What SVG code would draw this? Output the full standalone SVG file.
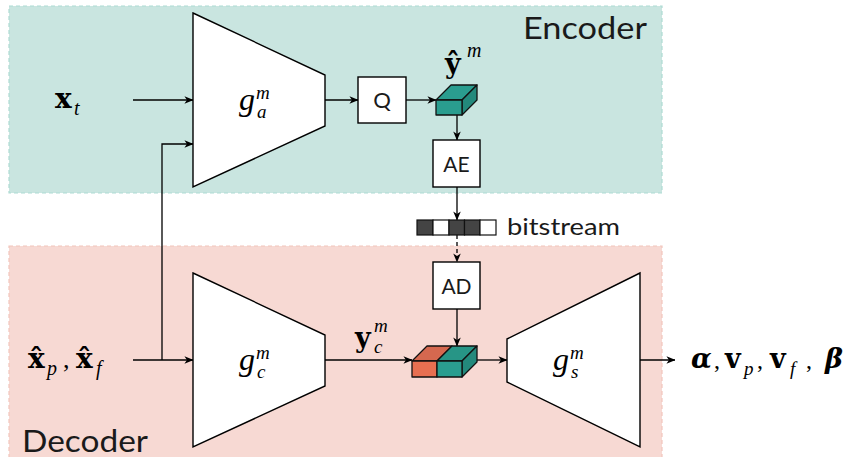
<svg xmlns="http://www.w3.org/2000/svg" width="855" height="457" viewBox="0 0 855 457">
<defs>
<marker id="arr" viewBox="0 0 10 10" refX="9.5" refY="5" markerWidth="9" markerHeight="9" markerUnits="userSpaceOnUse" orient="auto">
<path d="M0,0.8 L10,5 L0,9.2 L2.8,5 z" fill="#000"/>
</marker>
</defs>
<style>
.enc{fill:#c9e5e0;stroke:#aedbd3;stroke-width:1.2;stroke-dasharray:4 3}
.dec{fill:#f7d9d3;stroke:#f2c5bc;stroke-width:1.2;stroke-dasharray:4 3}
.blk{fill:#fff;stroke:#000;stroke-width:1.4}
.conn path{fill:none;stroke:#000;stroke-width:1.3;marker-end:url(#arr)}
.sans{font-family:Lato,"Open Sans",sans-serif;font-weight:400;fill:#1a1a1a}
.m{font-family:"Liberation Serif","DejaVu Serif",serif;fill:#000}
.b{font-family:"DejaVu Serif",serif;font-weight:bold}
.i{font-style:italic}
.cub{stroke:#111;stroke-width:1.3;stroke-linejoin:round}
</style>

<g id="encoder-region">
<rect class="enc" x="9" y="6" width="653" height="187"/>
<text class="sans" x="523" y="39" font-size="30" textLength="124" lengthAdjust="spacingAndGlyphs">Encoder</text>
</g>
<g id="decoder-region">
<rect class="dec" x="9" y="246" width="653" height="216"/>
<text class="sans" x="22" y="452" font-size="30" textLength="126" lengthAdjust="spacingAndGlyphs">Decoder</text>
</g>

<g class="conn" id="connectors">
<path d="M133,100 H193"/>
<path d="M162,360 V144 H193"/>
<path d="M133,360 H193"/>
<path d="M325,100 H358"/>
<path d="M406,100 H436"/>
<path d="M457,115 V140"/>
<path d="M457,187 V220"/>
<path d="M457,235 V262" stroke-dasharray="4 3"/>
<path d="M457,309 V346"/>
<path d="M325,360 H412"/>
<path d="M477,360 H507"/>
<path d="M640,360 H675"/>
</g>

<g id="input-xt">
<text class="m" font-size="28"><tspan class="b" x="55" y="108">x</tspan><tspan class="i" x="74" y="115" font-size="20">t</tspan></text>
</g>

<g id="input-xpxf">
<text class="m" font-size="28"><tspan class="b" x="28" y="368">x̂</tspan><tspan class="i" x="47" y="375" font-size="20">p</tspan><tspan x="63" y="368" font-size="26">,</tspan><tspan class="b" x="76" y="368">x̂</tspan><tspan class="i" x="96" y="375" font-size="20">f</tspan></text>
</g>

<g id="ga">
<polygon class="blk" points="193,13 325,75 325,126 193,187"/>
<text class="m i" font-size="32"><tspan x="239" y="110">g</tspan><tspan x="256" y="99" font-size="19">m</tspan><tspan x="257" y="118" font-size="19">a</tspan></text>
</g>

<g id="Q">
<rect class="blk" x="358" y="77" width="48" height="46"/>
<text class="sans" x="382" y="108" font-size="22" text-anchor="middle">Q</text>
</g>

<g id="y-hat">
<text class="m" font-size="27"><tspan class="b" x="445" y="73">ŷ</tspan><tspan class="i" x="467" y="57" font-size="20">m</tspan></text>
<polygon class="cub" fill="#2a9d8f" points="436,100 451,85 477,85 462,100"/>
<polygon class="cub" fill="#23897c" points="462,100 477,85 477,100 462,115"/>
<rect class="cub" fill="#2a9d8f" x="436" y="100" width="26" height="15"/>
</g>

<g id="AE">
<rect class="blk" x="433" y="140" width="47" height="47"/>
<text class="sans" x="456.5" y="172" font-size="21" text-anchor="middle">AE</text>
</g>

<g id="bitstream">
<rect x="417" y="220" width="16" height="15" fill="#444" stroke="#111" stroke-width="1.2"/>
<rect x="433" y="220" width="16" height="15" fill="#fff" stroke="#111" stroke-width="1.2"/>
<rect x="449" y="220" width="15.5" height="15" fill="#444" stroke="#111" stroke-width="1.2"/>
<rect x="464.5" y="220" width="15.5" height="15" fill="#444" stroke="#111" stroke-width="1.2"/>
<rect x="480" y="220" width="16" height="15" fill="#fff" stroke="#111" stroke-width="1.2"/>
<text class="sans" x="507" y="235" font-size="24" textLength="113" lengthAdjust="spacingAndGlyphs">bitstream</text>
</g>

<g id="AD">
<rect class="blk" x="433" y="262" width="47" height="47"/>
<text class="sans" x="456.5" y="294" font-size="21" text-anchor="middle">AD</text>
</g>

<g id="gc">
<polygon class="blk" points="193,273 325,335 325,386 193,447"/>
<text class="m i" font-size="32"><tspan x="239" y="370">g</tspan><tspan x="256" y="359" font-size="19">m</tspan><tspan x="257" y="378" font-size="19">c</tspan></text>
</g>

<g id="yc">
<text class="m" font-size="27"><tspan class="b" x="355" y="347">y</tspan><tspan class="i" x="374" y="332" font-size="19">m</tspan><tspan class="i" x="374" y="353" font-size="19">c</tspan></text>
</g>

<g id="latent-concat">
<polygon class="cub" fill="#d5684f" points="412,361 427,346 452,346 437,361"/>
<polygon class="cub" fill="#279586" points="437,361 452,346 477,346 462,361"/>
<polygon class="cub" fill="#23897c" points="462,361 477,346 477,362 462,377"/>
<rect class="cub" fill="#e76f51" x="412" y="361" width="25" height="16"/>
<rect class="cub" fill="#2a9d8f" x="437" y="361" width="25" height="16"/>
</g>

<g id="gs">
<polygon class="blk" points="507,339 640,273 640,447 507,382"/>
<text class="m i" font-size="32"><tspan x="553" y="370">g</tspan><tspan x="570" y="359" font-size="19">m</tspan><tspan x="571" y="378" font-size="19">s</tspan></text>
</g>

<g id="output">
<text class="m" font-size="27"><tspan class="b i" x="691" y="368">α</tspan><tspan x="714" y="368" font-size="24">,</tspan><tspan class="b" x="725" y="368">v</tspan><tspan class="i" x="744" y="375" font-size="19">p</tspan><tspan x="757" y="368" font-size="24">,</tspan><tspan class="b" x="770" y="368">v</tspan><tspan class="i" x="790" y="375" font-size="19">f</tspan><tspan x="806" y="368" font-size="24">,</tspan><tspan class="b i" x="825" y="368">β</tspan></text>
</g>
</svg>
